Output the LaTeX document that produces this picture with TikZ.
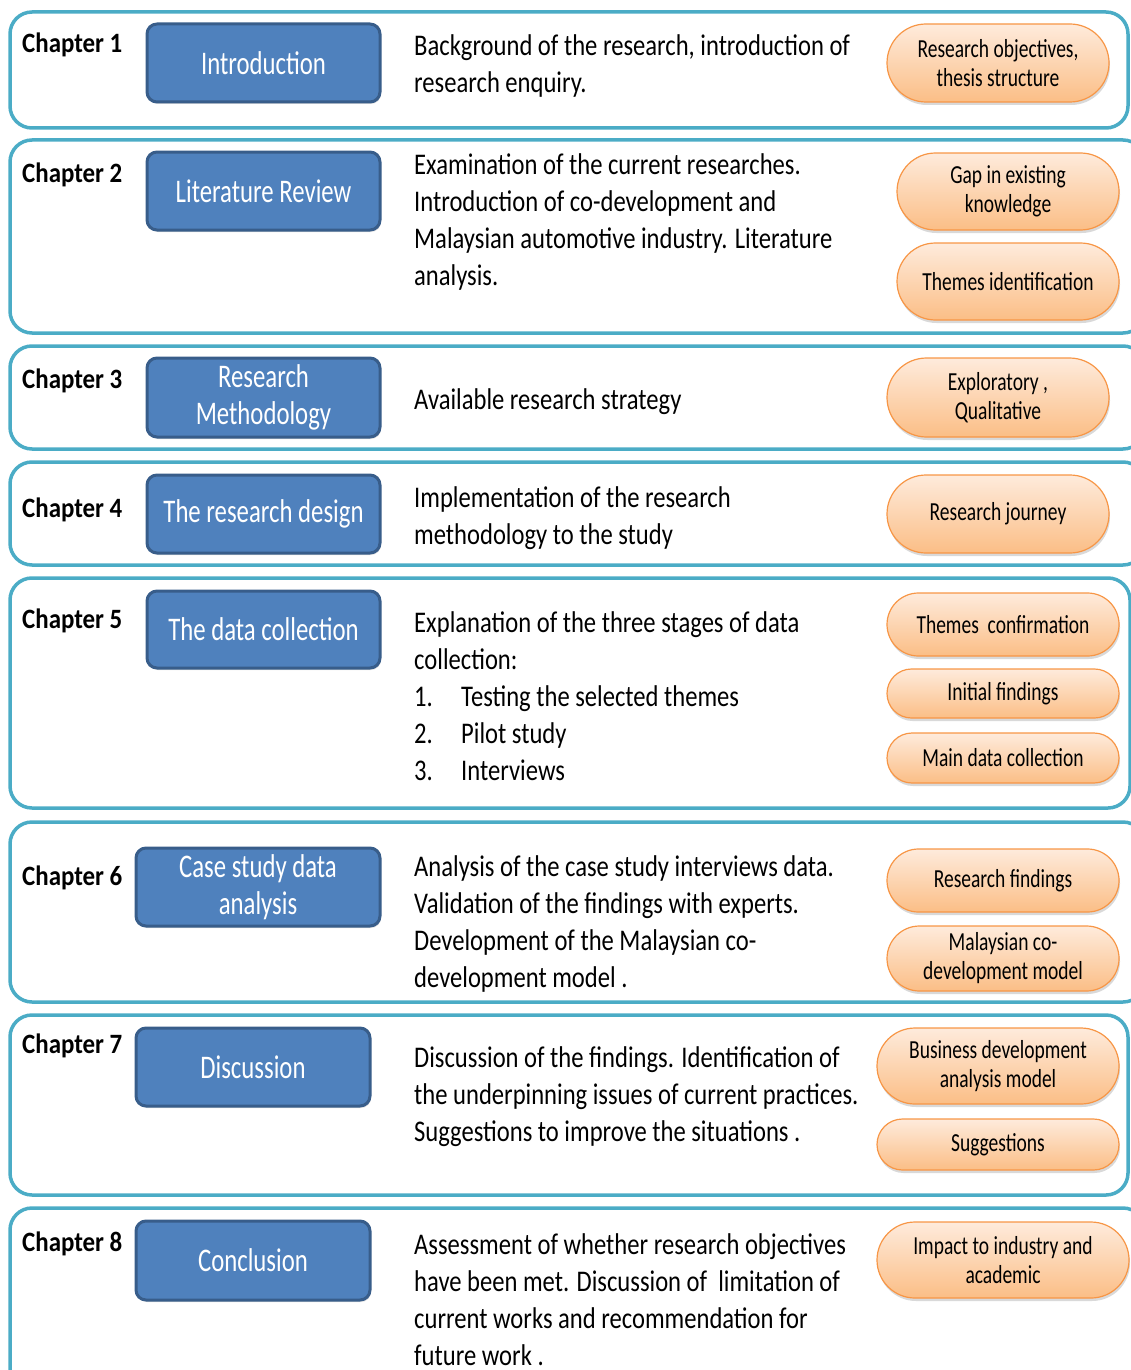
\documentclass[tikz,border=0pt]{standalone}
\usepackage{fontspec}
\setmainfont{Carlito}
\newfontfamily\chapfont[FakeStretch=0.89]{Carlito}
\newfontfamily\titlefont[FakeStretch=0.75]{Carlito}
\newfontfamily\descfont[FakeStretch=0.82]{Carlito}
\newfontfamily\pillfont[FakeStretch=0.75]{Carlito}
\usetikzlibrary{shapes.misc,shadows}

\definecolor{frameC}{HTML}{4BACC6}
\definecolor{blueF}{HTML}{4F81BD}
\definecolor{blueD}{HTML}{385D8A}
\definecolor{orTop}{HTML}{FEEBDC}
\definecolor{orBot}{HTML}{FBBE86}
\definecolor{orLine}{HTML}{F79646}

\tikzset{
  chapframe/.style={draw=frameC, line width=3.5pt, rounded corners=22pt},
  chaplabel/.style={anchor=base west, font=\chapfont\fontsize{28}{32}\selectfont\bfseries, inner sep=0pt},
  bluebox/.style={draw=blueD, fill=blueF, line width=3pt, rounded corners=10pt, text=white,
    font=\titlefont\fontsize{33}{37}\selectfont, align=center, inner sep=0pt,
    drop shadow={shadow xshift=1pt, shadow yshift=-2pt, opacity=0.25}},
  pill/.style={rounded rectangle, draw=orLine, line width=1.2pt, top color=orTop, bottom color=orBot,
    font=\pillfont\fontsize{26}{29}\selectfont, align=center, inner sep=0pt,
    drop shadow={shadow xshift=1pt, shadow yshift=-3pt, opacity=0.3}},
  desc/.style={anchor=north west, font=\descfont\fontsize{30}{37}\selectfont, align=left, inner sep=0pt}
}

% box given by its corners: style, name, x1, y1, x2, y2, text
\newcommand\cornerbox[7]{%
  \node[#1, minimum width={(#5-#3)*1pt}, minimum height={(#6-#4)*1pt}]
    (#2) at ({(#3+#5)/2},{(#4+#6)/2}) {#7};}
% description paragraph whose first baseline is at (x,y)
\newcommand\descat[4]{%
  \node[desc] (#1) at (#2,{#3-25.9}) {\strut#4};}

\begin{document}
\begin{tikzpicture}[x=1pt,y=-1pt]
\useasboundingbox (0,0) rectangle (1130,1370);

% chapter frames
\draw[chapframe] (10,12)   rectangle (1128,128);
\draw[chapframe] (10,140)  rectangle (1145,333);
\draw[chapframe] (10,346)  rectangle (1145,449);
\draw[chapframe] (10,462)  rectangle (1145,565);
\draw[chapframe] (10,578)  rectangle (1130,808);
\draw[chapframe] (10,822)  rectangle (1145,1002);
\draw[chapframe] (10,1015) rectangle (1128,1195);
\draw[chapframe] (10,1208) rectangle (1145,1400);

% chapter labels
\node[chaplabel] (c1) at (22,53)   {Chapter 1};
\node[chaplabel] (c2) at (22,182)  {Chapter 2};
\node[chaplabel] (c3) at (22,388)  {Chapter 3};
\node[chaplabel] (c4) at (22,517)  {Chapter 4};
\node[chaplabel] (c5) at (22,628)  {Chapter 5};
\node[chaplabel] (c6) at (22,885)  {Chapter 6};
\node[chaplabel] (c7) at (22,1053) {Chapter 7};
\node[chaplabel] (c8) at (22,1251) {Chapter 8};

% chapter titles
\cornerbox{bluebox}{b1}{147}{24}{380}{102}{Introduction}
\cornerbox{bluebox}{b2}{147}{152}{380}{230}{Literature Review}
\cornerbox{bluebox}{b3}{147}{358}{380}{437}{Research\\Methodology}
\cornerbox{bluebox}{b4}{147}{475}{380}{553}{The research design}
\cornerbox{bluebox}{b5}{147}{591}{380}{668}{The data collection}
\cornerbox{bluebox}{b6}{136}{848}{380}{926}{Case study data\\analysis}
\cornerbox{bluebox}{b7}{136}{1028}{370}{1106}{Discussion}
\cornerbox{bluebox}{b8}{136}{1221}{370}{1300}{Conclusion}

% descriptions
\descat{d1}{414}{55}{Background of the research, introduction of\\research enquiry.}
\descat{d2}{414}{174}{Examination of the current researches.\\Introduction of co-development and\\Malaysian automotive industry. Literature\\analysis.}
\descat{d3}{414}{409}{Available research strategy}
\descat{d4}{414}{507}{Implementation of the research\\methodology to the study}
\descat{d5}{414}{632}{Explanation of the three stages of data\\collection:\\
  \makebox[47pt][l]{1.}Testing the selected themes\\
  \makebox[47pt][l]{2.}Pilot study\\
  \makebox[47pt][l]{3.}Interviews}
\descat{d6}{414}{876}{Analysis of the case study interviews data.\\Validation of the findings with experts.\\Development of the Malaysian co-\\development model .}
\descat{d7}{414}{1067}{Discussion of the findings. Identification of\\the underpinning issues of current practices.\\Suggestions to improve the situations .}
\descat{d8}{414}{1254}{Assessment of whether research objectives\\have been met. Discussion of\ \ limitation of\\current works and recommendation for\\future work .}

% outcomes
\cornerbox{pill}{o1}{887}{24}{1109}{102}{Research objectives,\\thesis structure}
\cornerbox{pill}{o2a}{897}{153}{1119}{230}{Gap in existing\\knowledge}
\cornerbox{pill}{o2b}{897}{243}{1119}{320}{Themes identification}
\cornerbox{pill}{o3}{887}{358}{1109}{437}{Exploratory ,\\Qualitative}
\cornerbox{pill}{o4}{887}{475}{1109}{553}{Research journey}
\cornerbox{pill}{o5a}{887}{593}{1119}{656}{Themes\ \ confirmation}
\cornerbox{pill}{o5b}{887}{669}{1119}{718}{Initial findings}
\cornerbox{pill}{o5c}{887}{733}{1119}{783}{Main data collection}
\cornerbox{pill}{o6a}{887}{849}{1119}{912}{Research findings}
\cornerbox{pill}{o6b}{887}{926}{1119}{991}{Malaysian co-\\development model}
\cornerbox{pill}{o7a}{877}{1028}{1119}{1104}{Business development\\analysis model}
\cornerbox{pill}{o7b}{877}{1119}{1119}{1170}{Suggestions}
\cornerbox{pill}{o8}{877}{1222}{1129}{1298}{Impact to industry and\\academic}
\end{tikzpicture}
\end{document}
